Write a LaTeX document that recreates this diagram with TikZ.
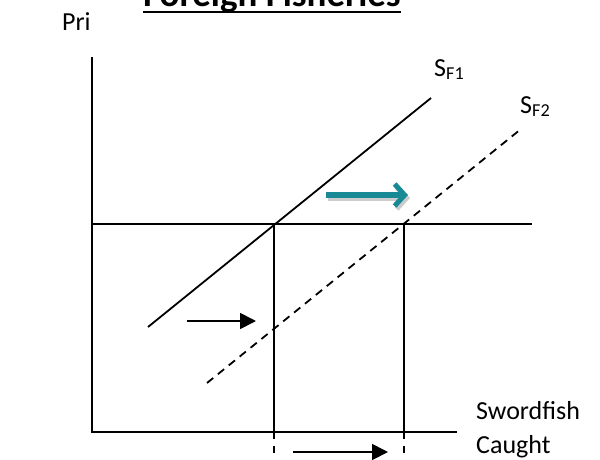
\documentclass[tikz,border=0pt]{standalone}
\usepackage{fontspec}
\setmainfont{Carlito}
\usetikzlibrary{arrows.meta}
\definecolor{tealarrow}{RGB}{24,138,150}
\tikzset{
  axisline/.style={line width=2pt},
  curve/.style={line width=1.8pt},
  dashcurve/.style={line width=1.8pt, dash pattern=on 8pt off 6pt},
  guide/.style={line width=2pt, dash pattern=on 7pt off 7pt},
  shiftarrow/.style={line width=1.8pt, -{Triangle[length=16pt,width=16pt]}},
  lbl/.style={font=\fontsize{26}{30}\selectfont, inner sep=0pt},
  tealhead/.style={-{Straight Barb[length=10pt,width=22pt,line width=5pt]}},
}
\begin{document}
\begin{tikzpicture}[x=1pt,y=-1pt]
\clip (0,0) rectangle (600,459);
\fill[white] (0,0) rectangle (600,459);
% title
\node[font=\bfseries\fontsize{37}{40}\selectfont, anchor=base west, inner sep=0pt] (title) at (143,6) {Foreign Fisheries};
\draw[line width=2.4pt] (title.base west) ++(0,6) coordinate (ul1) -- ([yshift=-6pt]title.base east) coordinate (ul2);
% Price label (clipped)
\begin{scope}
\clip (0,0) rectangle (89.5,60);
\node[lbl, anchor=base west] (price) at (62,30) {Price};
\end{scope}
% axes
\coordinate (O) at (92,432);
\coordinate (ytop) at (92,57);
\coordinate (xend) at (457,432);
\draw[axisline] (ytop) -- (O) -- (xend);
% price line
\coordinate (pl) at (92,224);
\coordinate (pr) at (532,224);
\draw[axisline] (pl) -- (pr);
% supply curves
\coordinate (s1a) at (148,327);
\coordinate (s1b) at (431,98);
\draw[curve] (s1a) -- (s1b);
\coordinate (s2a) at (207,383);
\coordinate (s2b) at (521,129);
\draw[dashcurve] (s2a) -- (s2b);
% verticals
\coordinate (q1t) at (274,224);
\coordinate (q1b) at (274,432);
\coordinate (q1e) at (274,462);
\coordinate (q2t) at (404,224);
\coordinate (q2b) at (404,432);
\coordinate (q2e) at (404,462);
\draw[axisline] (q1t) -- (q1b);
\draw[axisline] (q2t) -- (q2b);
\draw[guide] (q1b) -- (q1e);
\draw[guide] (q2b) -- (q2e);
% labels
\node[lbl, anchor=base west] (sf1) at (434,76) {S\textsubscript{F1}};
\node[lbl, anchor=base west] (sf2) at (520,113) {S\textsubscript{F2}};
\node[lbl, anchor=base west] (sw) at (476,419) {Swordfish};
\node[lbl, anchor=base west] (ca) at (476,453) {Caught};
% black arrows
\coordinate (a1s) at (187,321);
\coordinate (a1e) at (256,321);
\draw[shiftarrow] (a1s) -- (a1e);
\coordinate (a2s) at (293,452);
\coordinate (a2e) at (388,452);
\draw[shiftarrow] (a2s) -- (a2e);
% teal arrow with shadow
\coordinate (tas) at (326,195);
\coordinate (tae) at (408,195);
\draw[line width=6pt, black!20, tealhead] ([shift={(2,3)}]tas) -- ([shift={(2,3)}]tae);
\draw[line width=6pt, tealarrow, tealhead] (tas) -- (tae);
\end{tikzpicture}
\end{document}
